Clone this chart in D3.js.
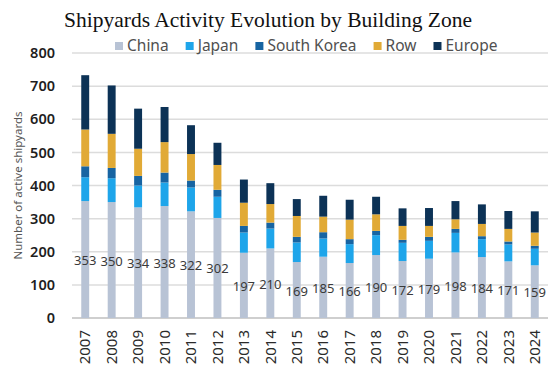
<!DOCTYPE html>
<html>
<head>
<meta charset="utf-8">
<script src="https://cdn.jsdelivr.net/npm/d3@7"></script>
<style>
  html, body { margin: 0; padding: 0; background: #ffffff; }
  svg { display: block; }
</style>
</head>
<body>
<svg id="chart" width="557" height="374"></svg>
<script>
const years = ["2007","2008","2009","2010","2011","2012","2013","2014","2015","2016","2017","2018","2019","2020","2021","2022","2023","2024"];
const china      = [353,350,334,338,322,302,197,210,169,185,166,190,172,179,198,184,171,159];
const japan      = [72,72,66,71,72,64,61,60,59,55,57,60,55,54,59,54,51,50];
const southKorea = [33,31,29,30,21,21,20,18,17,19,15,13,9,12,12,9,9,9];
const row        = [111,103,82,92,80,75,70,56,63,47,59,50,42,33,29,37,38,40];
const europe     = [164,146,121,106,87,67,70,63,51,63,60,53,53,54,55,59,54,64];
const seriesNames = ["China","Japan","South Korea","Row","Europe"];
const yTicks = [0,100,200,300,400,500,600,700,800];
const colors = ["#b8c3d5","#1ea5ea","#1764a2","#e1aa36","#0c3256"];

(function () {
const svg = d3.select("#chart");
const mLeft = 72, mRight = 548, mTop = 53, mBottom = 318;

const table = years.map((yr, i) => ({
  year: yr, China: china[i], Japan: japan[i], "South Korea": southKorea[i], Row: row[i], Europe: europe[i]
}));
const stack = d3.stack().keys(seriesNames)(table);

const x = d3.scaleBand().domain(years).range([mLeft, mRight]).paddingInner(0.7).paddingOuter(0.35);
const y = d3.scaleLinear().domain([0, 800]).range([mBottom, mTop]);

// gridlines
svg.append("g").selectAll("line").data(yTicks).join("line")
  .attr("x1", mLeft).attr("x2", mRight)
  .attr("y1", d => y(d)).attr("y2", d => y(d))
  .attr("stroke", d => d === 0 ? "#cfcfcf" : "#dcdcdc")
  .attr("stroke-width", d => d === 0 ? 2 : 1.5);

// y axis
const yAxis = svg.append("g").attr("transform", `translate(${mLeft},0)`)
  .call(d3.axisLeft(y).tickValues(yTicks).tickSize(0).tickPadding(17));
yAxis.select(".domain").remove();
yAxis.selectAll("text")
  .attr("font-family", "'Noto Sans', sans-serif")
  .attr("font-size", 14.5)
  .attr("font-weight", 600)
  .attr("fill", "#1e1e1e");

// y title
svg.append("text")
  .attr("transform", `translate(22,${(mTop + mBottom) / 2}) rotate(-90)`)
  .attr("text-anchor", "middle")
  .attr("font-family", "'Noto Sans', sans-serif")
  .attr("font-size", 11.5)
  .attr("fill", "#555")
  .text("Number of active shipyards");

// bars
svg.append("g").selectAll("g").data(stack).join("g")
  .attr("fill", (d, i) => colors[i])
  .selectAll("rect").data(d => d).join("rect")
  .attr("x", d => x(d.data.year))
  .attr("width", x.bandwidth())
  .attr("y", d => y(d[1]))
  .attr("height", d => y(d[0]) - y(d[1]));

// China labels
svg.append("g").selectAll("text").data(stack[0]).join("text")
  .attr("x", d => x(d.data.year) + x.bandwidth() / 2)
  .attr("y", d => y((d[0] + d[1]) / 2) + 5.5)
  .attr("text-anchor", "middle")
  .attr("font-family", "'Noto Sans', sans-serif")
  .attr("font-size", 13)
  .attr("fill", "#3a3a3a")
  .text(d => d.data.China);

// x axis labels
const xAxis = svg.append("g").attr("transform", `translate(0,${mBottom})`)
  .call(d3.axisBottom(x).tickSize(0).tickPadding(0));
xAxis.select(".domain").remove();
xAxis.selectAll("text")
  .attr("transform", "rotate(-90)")
  .attr("text-anchor", "end")
  .attr("x", -12)
  .attr("y", 0)
  .attr("dy", "0.35em")
  .attr("font-family", "'Noto Sans', sans-serif")
  .attr("font-size", 15)
  .attr("fill", "#2a2a2a");

// title
svg.append("text")
  .attr("x", 268).attr("y", 27)
  .attr("text-anchor", "middle")
  .attr("font-family", "'Liberation Serif', serif")
  .attr("font-size", 21.5)
  .attr("fill", "#111")
  .text("Shipyards Activity Evolution by Building Zone");

// legend
const legend = svg.append("g");
let lx = 115;
seriesNames.forEach((name, i) => {
  const g = legend.append("g").attr("transform", `translate(${lx},0)`);
  g.append("rect").attr("x", 0).attr("y", 42).attr("width", 8).attr("height", 8).attr("fill", colors[i]);
  const t = g.append("text").attr("x", 12).attr("y", 51)
    .attr("font-family", "'Noto Sans', sans-serif")
    .attr("font-size", 15.5)
    .attr("fill", "#505050")
    .text(name);
  lx += 12 + t.node().getComputedTextLength() + 17;
});
})();
</script>
</body>
</html>
